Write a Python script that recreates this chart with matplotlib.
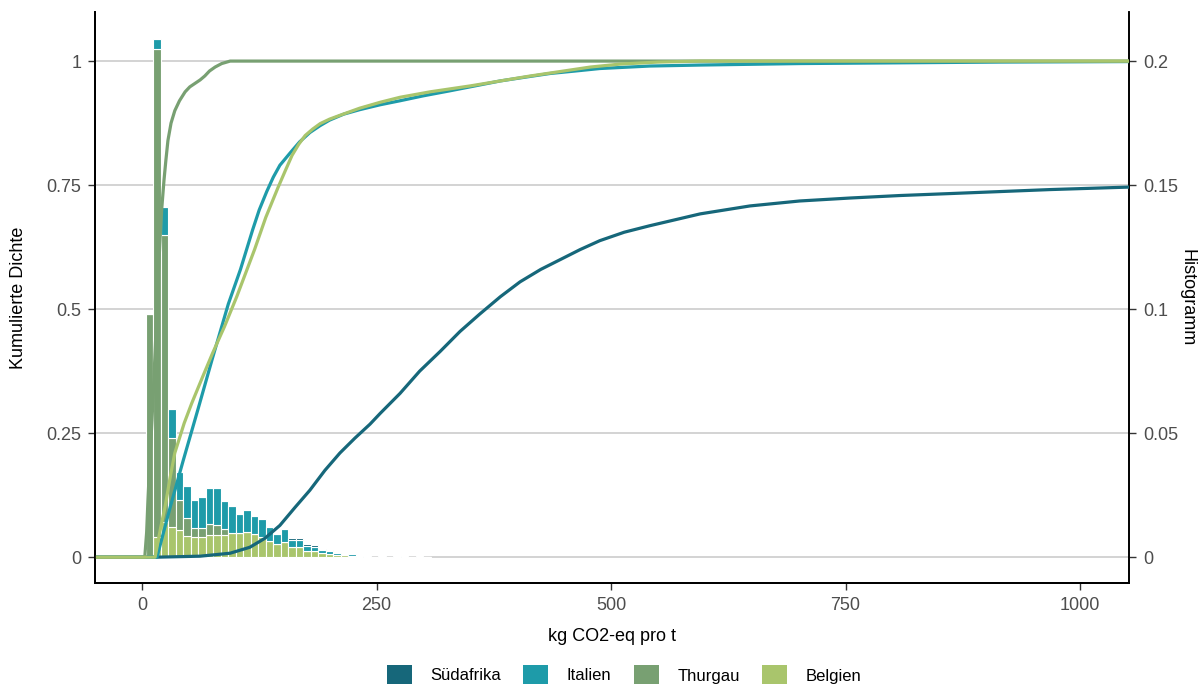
import matplotlib.pyplot as plt
import matplotlib.ticker as mticker
from matplotlib.patches import Patch

plt.rcParams['font.family'] = ['Liberation Sans', 'DejaVu Sans']

# ---------------------------------------------------------------------------
# data
# ---------------------------------------------------------------------------
laender = ['Südafrika', 'Italien', 'Thurgau', 'Belgien']
farben = {'Südafrika': '#16677a', 'Italien': '#1e9ba9',
          'Thurgau': '#78a072', 'Belgien': '#a9c56c'}

# histogram (bin width 8, bin centres)
bin_mitte = [8, 16, 24, 32, 40, 48, 56, 64, 72, 80, 88, 96, 104, 112, 120,
             128, 136, 144, 152, 160, 168, 176, 184, 192, 200, 208, 216,
             224, 232, 240, 248, 256, 264, 272, 280, 288, 296, 304]
hist_belgien = [0, 0.008, 0.014, 0.012, 0.011, 0.0085, 0.008, 0.008, 0.0089,
                0.0089, 0.0089, 0.0097, 0.0097, 0.010, 0.0093, 0.008, 0.0064,
                0.0052, 0.006, 0.004, 0.004, 0.0024, 0.0024, 0.0016, 0.0012,
                0.0008, 0.0008, 0.0004, 0.0004, 0, 0.0002, 0, 0, 0, 0, 0, 0, 0]
hist_thurgau = [0.098, 0.197, 0.116, 0.036, 0.012, 0.0072, 0.0036, 0.0036,
                0.0044, 0.004, 0.0024, 0, 0, 0, 0, 0, 0, 0, 0, 0, 0, 0, 0, 0,
                0, 0, 0, 0, 0, 0, 0, 0, 0, 0, 0, 0, 0, 0]
hist_italien = [0, 0.004, 0.011, 0.0117, 0.0113, 0.0129, 0.0113, 0.0125,
                0.0145, 0.0149, 0.0113, 0.0109, 0.0076, 0.0089, 0.0072, 0.0072,
                0.0056, 0.004, 0.0052, 0.0028, 0.0028, 0.002, 0.0016, 0.0012,
                0.0012, 0.0008, 0, 0.0008, 0, 0.0004, 0, 0.0003, 0, 0.0006,
                0.0006, 0, 0.0006, 0]
hist_suedafrika = [0, 0, 0, 0, 0, 0, 0, 0, 0, 0, 0, 0, 0, 0, 0, 0, 0, 0, 0,
                   0.0008, 0.0008, 0.0008, 0.0008, 0.0006, 0.0004, 0, 0.0004,
                   0, 0, 0, 0, 0, 0, 0, 0, 0, 0, 0]

# cumulative curves (x in kg CO2-eq / t, y cumulative density)
x_thurgau = [-50, 3, 5, 6.4, 8.5, 10.7, 13, 15, 17, 19, 21, 23.5, 25.5, 27.7,
             31, 35, 40, 46, 51, 56.5, 62, 67, 72, 78, 85, 94, 1052]
y_thurgau = [0, 0, 0.05, 0.115, 0.2, 0.276, 0.37, 0.457, 0.55, 0.63, 0.70,
             0.76, 0.80, 0.84, 0.875, 0.90, 0.92, 0.938, 0.948, 0.955, 0.962,
             0.97, 0.98, 0.988, 0.995, 1.0, 1.0]

x_italien = [-50, 16, 30, 44, 60, 75, 92, 105, 118, 125, 133, 140, 147, 158,
             168, 179, 190, 200, 215, 232, 254, 275, 300, 328, 355, 382, 410,
             435, 462, 488, 541, 595, 701, 915, 1052]
y_italien = [0, 0, 0.10, 0.195, 0.30, 0.40, 0.51, 0.58, 0.66, 0.70, 0.737,
             0.766, 0.79, 0.815, 0.837, 0.856, 0.87, 0.881, 0.893, 0.902,
             0.912, 0.92, 0.93, 0.94, 0.95, 0.96, 0.968, 0.975, 0.98, 0.985,
             0.99, 0.992, 0.995, 0.998, 0.999]

x_belgien = [-50, 14, 17, 20, 24.5, 30, 35, 45, 53, 65, 75, 88, 101, 110, 120,
             132, 145, 153, 160, 167, 174, 182, 190, 200, 210, 232, 254, 275,
             307, 350, 382, 414, 446, 478, 510, 550, 595, 1052]
y_belgien = [0, 0, 0.03, 0.06, 0.10, 0.16, 0.21, 0.27, 0.31, 0.365, 0.41,
             0.465, 0.525, 0.57, 0.62, 0.685, 0.745, 0.78, 0.81, 0.832, 0.85,
             0.863, 0.874, 0.883, 0.89, 0.905, 0.917, 0.927, 0.938, 0.95,
             0.96, 0.97, 0.979, 0.988, 0.994, 0.998, 1.0, 1.0]

x_suedafrika = [-50, 16, 62, 94, 115, 131, 147, 163, 179, 195, 211, 227, 243,
                254, 275, 296, 318, 339, 360, 382, 403, 425, 446, 467, 488,
                514, 541, 568, 595, 648, 701, 755, 808, 862, 915, 968, 1052]
y_suedafrika = [0, 0, 0.002, 0.008, 0.02, 0.038, 0.064, 0.10, 0.135, 0.175,
                0.21, 0.24, 0.268, 0.29, 0.33, 0.375, 0.415, 0.455, 0.49,
                0.525, 0.555, 0.58, 0.60, 0.62, 0.638, 0.655, 0.668, 0.68,
                0.692, 0.708, 0.718, 0.724, 0.729, 0.733, 0.737, 0.741, 0.746]

# ---------------------------------------------------------------------------
# figure
# ---------------------------------------------------------------------------
fig = plt.figure(figsize=(12, 6.84), dpi=100)
ax = fig.add_axes([0.0792, 0.1477, 0.8616, 0.8348])
ax2 = ax.twinx()   # histogram (right axis)
ax3 = ax.twinx()   # cumulative lines on top

ylim_links = (-0.052, 1.099)
ax.set_xlim(-50, 1052)
ax.set_ylim(*ylim_links)
ax2.set_ylim(ylim_links[0] / 5, ylim_links[1] / 5)
ax3.set_ylim(*ylim_links)

# grid
ax.set_yticks([0, 0.25, 0.5, 0.75, 1])
ax.yaxis.grid(True, color='#d3d3d3', linewidth=1.4)
ax.set_axisbelow(True)

# stacked histogram
unten = [0] * len(bin_mitte)
for name, werte in [('Belgien', hist_belgien), ('Thurgau', hist_thurgau),
                    ('Italien', hist_italien), ('Südafrika', hist_suedafrika)]:
    ax2.bar(bin_mitte, werte, width=8, bottom=unten, color=farben[name],
            edgecolor='white', linewidth=0.8)
    unten = [u + w for u, w in zip(unten, werte)]

# cumulative density lines
for name, xs, ys in [('Südafrika', x_suedafrika, y_suedafrika),
                     ('Italien', x_italien, y_italien),
                     ('Thurgau', x_thurgau, y_thurgau),
                     ('Belgien', x_belgien, y_belgien)]:
    ax3.plot(xs, ys, color=farben[name], linewidth=2.3, solid_joinstyle='round')

# axes styling
for a in (ax, ax2, ax3):
    a.spines['top'].set_visible(False)
    for s in ('left', 'right', 'bottom'):
        a.spines[s].set_linewidth(1.2)
ax3.set_yticks([])
ax3.spines['right'].set_visible(False)

ax.set_xticks([0, 250, 500, 750, 1000])
ax2.set_yticks([0, 0.05, 0.1, 0.15, 0.2])
fmt = mticker.FuncFormatter(lambda v, p: f'{v:g}')
ax.yaxis.set_major_formatter(fmt)
ax2.yaxis.set_major_formatter(fmt)

for a in (ax, ax2):
    a.tick_params(axis='both', labelsize=13, labelcolor='#4d4d4d',
                  length=5, width=1, color='#333333', pad=5)

ax.set_xlabel('kg CO2-eq pro t', fontsize=13, va='center')
ax.xaxis.set_label_coords(0.5, -0.0945)
ax.set_ylabel('Kumulierte Dichte', fontsize=13, va='center')
ax.yaxis.set_label_coords(-0.0745, 0.5)
ax2.set_ylabel('Histogramm', fontsize=13, rotation=270, va='center')
ax2.yaxis.set_label_coords(1.056, 0.5)

# legend
handles = [Patch(facecolor=farben[n], edgecolor='none', label=n) for n in laender]
fig.legend(handles=handles, loc='center', ncol=4, frameon=False,
           bbox_to_anchor=(0.52, 1 - 675 / 684), fontsize=12,
           handlelength=1.5, handleheight=1.5, handletextpad=1.1,
           columnspacing=1.35)

plt.savefig('out.png', dpi=100, facecolor='white')
